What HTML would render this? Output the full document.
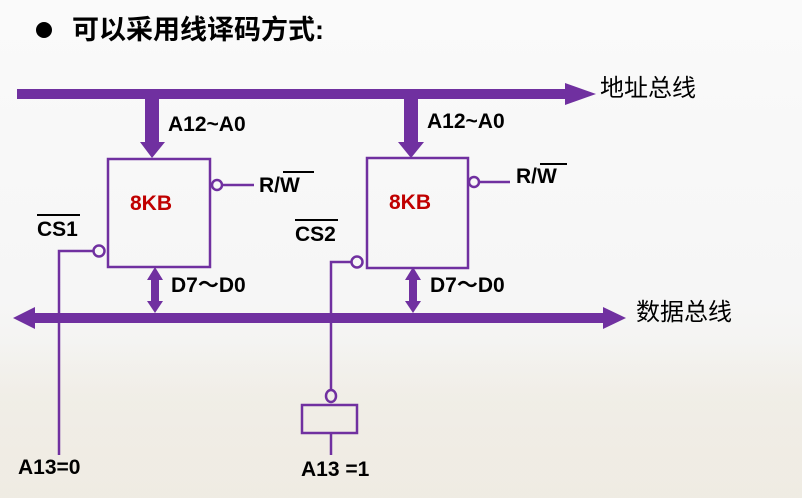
<!DOCTYPE html>
<html><head><meta charset="utf-8"><style>
body{margin:0;width:802px;height:498px;overflow:hidden;background:linear-gradient(#fafafa 0%,#f6f6f6 60%,#efece4 100%);}
svg{display:block}
text{font-family:"Liberation Sans","Noto Sans CJK SC",sans-serif;}
.l{font-size:21px;fill:#000;font-weight:bold;}
</style></head><body>
<svg width="802" height="498" viewBox="0 0 802 498">
<defs><linearGradient id="g" x1="0" y1="0" x2="0" y2="1"><stop offset="0" stop-color="#efebe2" stop-opacity="0"/><stop offset="0.4" stop-color="#efebe2" stop-opacity="0.6"/></linearGradient></defs>
<rect x="0" y="340" width="802" height="158" fill="url(#g)"/>
<circle cx="44" cy="30" r="8" fill="#000"/>
<text x="72" y="39" font-size="27" fill="#000" font-weight="bold">可以采用线译码方式:</text>
<g fill="#7030A0" stroke="none">
<rect x="17" y="89" width="550" height="10"/>
<polygon points="565,83 596,94 565,105"/>
<rect x="145" y="99" width="14" height="43"/>
<polygon points="140,142 165,142 152,158"/>
<rect x="404" y="99" width="14" height="43"/>
<polygon points="398,142 424,142 411,158"/>
<rect x="35" y="313" width="570" height="10"/>
<polygon points="35,307 13,318 35,329"/>
<polygon points="603,307 626,318 603,329"/>
<rect x="151" y="278" width="8" height="25"/>
<polygon points="147,280 163,280 155,267"/>
<polygon points="147,301 163,301 155,313"/>
<rect x="409" y="278" width="8" height="25"/>
<polygon points="405,280 421,280 413,267"/>
<polygon points="405,301 421,301 413,313"/>
</g>
<g fill="none" stroke="#7030A0" stroke-width="2.5">
<rect x="108" y="159" width="102" height="108"/>
<rect x="367" y="158" width="101" height="110"/>
<circle cx="217" cy="185" r="5"/>
<line x1="222" y1="185" x2="254" y2="185"/>
<circle cx="474" cy="182" r="5"/>
<line x1="479" y1="182" x2="510" y2="182"/>
<circle cx="99" cy="251" r="5.5"/>
<polyline points="93,251 59,251 59,455"/>
<circle cx="357" cy="262" r="5.5"/>
<polyline points="351,262 331,262 331,390"/>
<ellipse cx="331" cy="396" rx="5" ry="6"/>
<rect x="302" y="405" width="55" height="28"/>
<line x1="331" y1="433" x2="331" y2="455"/>
</g>
<text x="130" y="210" font-size="21" fill="#c00000" font-weight="bold">8KB</text>
<text x="389" y="209" font-size="21" fill="#c00000" font-weight="bold">8KB</text>
<text class="l" x="168" y="131">A12~A0</text>
<text class="l" x="427" y="128">A12~A0</text>
<text class="l" x="259" y="192">R/W</text>
<line x1="283" y1="172" x2="314" y2="172" stroke="#000" stroke-width="2"/>
<text class="l" x="516" y="183">R/W</text>
<line x1="540" y1="164" x2="567" y2="164" stroke="#000" stroke-width="2"/>
<text class="l" x="37" y="236">CS1</text>
<line x1="37" y1="215" x2="80" y2="215" stroke="#000" stroke-width="2"/>
<text class="l" x="295" y="241">CS2</text>
<line x1="295" y1="220" x2="338" y2="220" stroke="#000" stroke-width="2"/>
<text class="l" x="171" y="292">D7～D0</text>
<text class="l" x="430" y="292">D7～D0</text>
<text x="600" y="96" font-size="24" fill="#000">地址总线</text>
<text x="636" y="320" font-size="24" fill="#000">数据总线</text>
<text x="18" y="474" font-size="21" fill="#000" font-weight="bold">A13=0</text>
<text x="301" y="476" font-size="21" fill="#000" font-weight="bold">A13 =1</text>
</svg>
</body></html>
